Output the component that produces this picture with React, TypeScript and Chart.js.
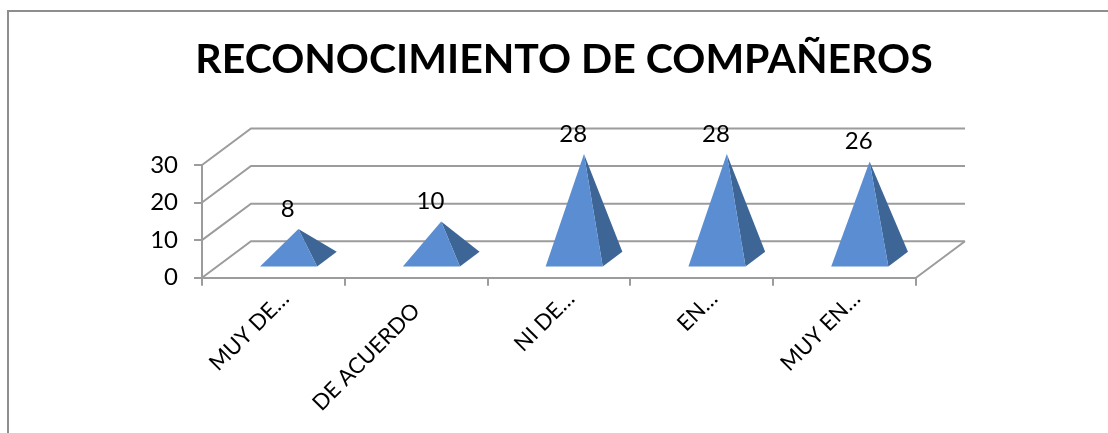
import { useEffect, useRef } from "react";
import { Chart, registerables } from "chart.js";

Chart.register(...registerables);

const categories = ["MUY DE…", "DE ACUERDO", "NI DE…", "EN…", "MUY EN…"];
const responses = [8, 10, 28, 28, 26];
const axisTicks = [0, 10, 20, 30];
const chartTitle = "RECONOCIMIENTO DE COMPAÑEROS";

const FONT = "Lato, Carlito, sans-serif";
const LINE = "#9c9c9c";
const FRONT_FACE = "#5a8dd1";
const SIDE_FACE = "#3d6697";

// Oblique projection of the depth axis, in canvas pixels.
const DEPTH_X = 49;
const DEPTH_Y = 36.5;
const BASE_NEAR = 0.31;
const BASE_FAR = 0.71;

const pyramid3d = {
  id: "pyramid3d",
  beforeDraw(chart: any) {
    const { ctx, width } = chart;
    ctx.save();
    ctx.strokeStyle = "#8e8e8e";
    ctx.lineWidth = 2;
    ctx.beginPath();
    ctx.moveTo(8, chart.height);
    ctx.lineTo(8, 11);
    ctx.lineTo(width, 11);
    ctx.stroke();
    ctx.restore();
  },
  afterLayout(chart: any) {
    // The heading sits to the right of the plot's own centre.
    chart.titleBlock.left += 106;
    chart.titleBlock.right += 106;
  },
  beforeDatasetsDraw(chart: any) {
    const { ctx, chartArea, scales } = chart;
    const { left, right, bottom } = chartArea;
    ctx.save();
    ctx.strokeStyle = LINE;
    ctx.lineWidth = 2;
    ctx.beginPath();
    for (const tick of scales.y.ticks) {
      const y = scales.y.getPixelForValue(tick.value);
      ctx.moveTo(left, y);
      ctx.lineTo(left + DEPTH_X, y - DEPTH_Y);
      ctx.lineTo(right + DEPTH_X, y - DEPTH_Y);
    }
    ctx.moveTo(right, bottom);
    ctx.lineTo(right + DEPTH_X, bottom - DEPTH_Y);
    ctx.stroke();
    ctx.restore();
  },
  afterDatasetsDraw(chart: any) {
    const { ctx, scales } = chart;
    const bars = chart.getDatasetMeta(0).data;
    const unit = scales.y.getPixelForValue(0);
    ctx.save();
    bars.forEach((bar: any, i: number) => {
      const half = bar.width / 2;
      const nearX = BASE_NEAR * DEPTH_X;
      const nearY = unit - BASE_NEAR * DEPTH_Y;
      const farX = BASE_FAR * DEPTH_X;
      const farY = unit - BASE_FAR * DEPTH_Y;
      const midDepth = (BASE_NEAR + BASE_FAR) / 2;
      const apexX = bar.x + midDepth * DEPTH_X;
      const apexY = bar.y - midDepth * DEPTH_Y;
      const rightNear = bar.x + half + nearX;

      ctx.fillStyle = SIDE_FACE;
      ctx.beginPath();
      ctx.moveTo(rightNear, nearY);
      ctx.lineTo(bar.x + half + farX, farY);
      ctx.lineTo(apexX, apexY);
      ctx.closePath();
      ctx.fill();

      ctx.fillStyle = FRONT_FACE;
      ctx.beginPath();
      ctx.moveTo(bar.x - half + nearX, nearY);
      ctx.lineTo(rightNear, nearY);
      ctx.lineTo(apexX, apexY);
      ctx.closePath();
      ctx.fill();

      ctx.fillStyle = "#000";
      ctx.font = `24px ${FONT}`;
      ctx.textAlign = "center";
      ctx.textBaseline = "middle";
      ctx.fillText(String(responses[i]), bar.x + nearX - 1, apexY - 20);
    });
    ctx.restore();
  },
};

export default function App() {
  const ref = useRef<HTMLCanvasElement>(null);

  useEffect(() => {
    const chart = new Chart(ref.current!, {
      type: "bar",
      plugins: [pyramid3d],
      data: {
        labels: categories,
        datasets: [
          {
            data: responses,
            backgroundColor: "transparent",
            borderWidth: 0,
            categoryPercentage: 1,
            barPercentage: 0.4,
          },
        ],
      },
      options: {
        responsive: false,
        animation: false,
        layout: { autoPadding: false, padding: { left: 0, right: 192, top: 0, bottom: 0 } },
        plugins: {
          legend: { display: false },
          tooltip: { enabled: false },
          title: {
            display: true,
            text: chartTitle,
            color: "#000",
            font: { family: FONT, size: 41, weight: "bold", lineHeight: 1.2 },
            padding: { top: 35.4, bottom: 80.4 },
          },
        },
        scales: {
          x: {
            afterFit(scale: any) {
              scale.height = 155.3;
            },
            border: { color: LINE, width: 2 },
            grid: { color: LINE, lineWidth: 2, drawOnChartArea: false, tickLength: 8, offset: true },
            ticks: {
              color: "#000",
              font: { family: FONT, size: 22 },
              minRotation: 45,
              maxRotation: 45,
              autoSkip: false,
              labelOffset: 12,
              padding: 0,
              // Full-length labels hang a little lower along the slant than shortened ones.
              callback(this: any, value: number) {
                const label = String(this.getLabelForValue(value));
                return label.endsWith("…") ? label : label + "   ";
              },
            },
          },
          y: {
            min: axisTicks[0],
            max: axisTicks[axisTicks.length - 1],
            afterFit(scale: any) {
              scale.width = 202;
            },
            border: { color: LINE, width: 2 },
            grid: { color: LINE, lineWidth: 2, drawOnChartArea: false, tickLength: 8 },
            ticks: {
              color: "#000",
              stepSize: 10,
              font: { family: FONT, size: 24 },
              padding: 16,
            },
          },
        },
      },
    } as any);
    return () => chart.destroy();
  }, []);

  return (
    <div style={{ position: "fixed", left: 0, top: 0, background: "#fff" }}>
      <canvas ref={ref} width={1108} height={433} style={{ display: "block" }} />
    </div>
  );
}
